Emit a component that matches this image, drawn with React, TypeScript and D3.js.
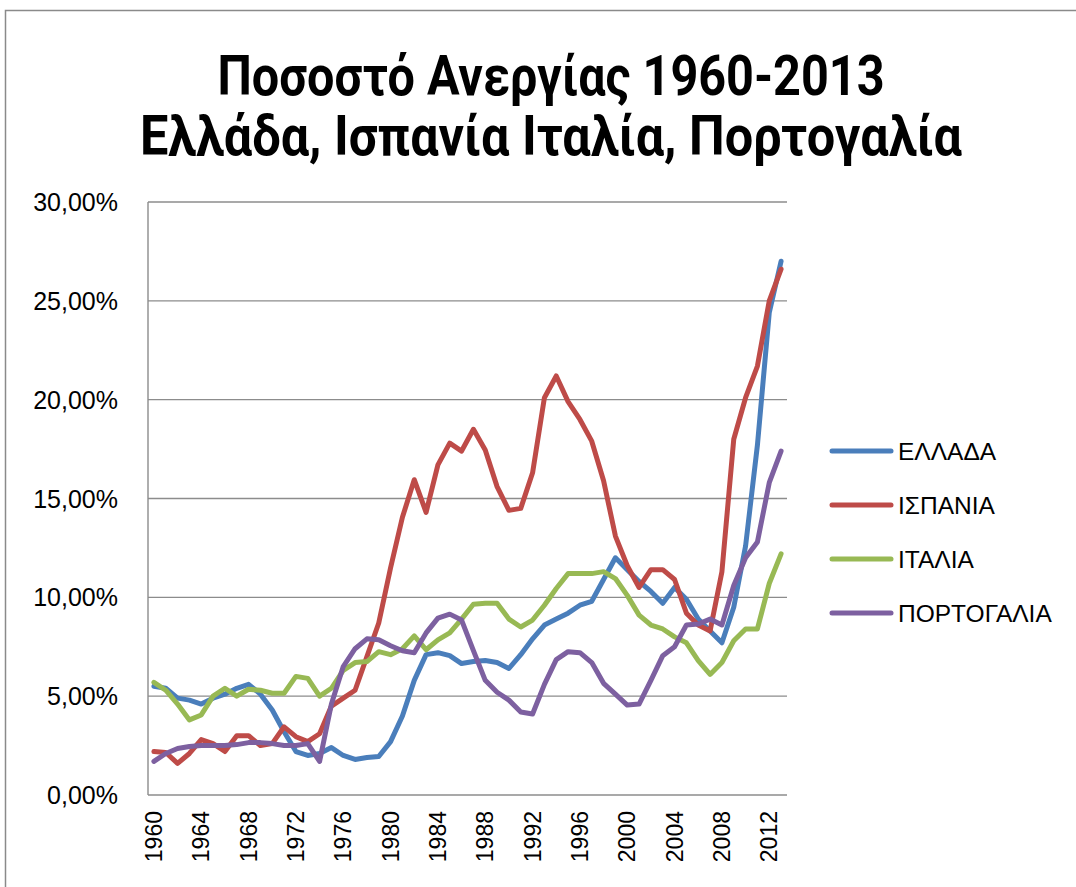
import React from "react";
import * as d3 from "d3";

const years: number[] = d3.range(1960, 2014);

const greece: number[] = [
  5.5, 5.4, 4.9, 4.8, 4.6, 4.9, 5.1, 5.4, 5.6, 5.1,
  4.3, 3.2, 2.2, 2.0, 2.1, 2.4, 2.0, 1.8, 1.9, 1.95,
  2.7, 4.0, 5.8, 7.1, 7.2, 7.05, 6.65, 6.75, 6.8, 6.7,
  6.4, 7.1, 7.9, 8.6, 8.9, 9.2, 9.6, 9.8, 10.9, 12.0,
  11.4, 10.8, 10.3, 9.7, 10.5, 9.9, 8.9, 8.3, 7.7, 9.5,
  12.6, 17.7, 24.4, 27.0,
];
const spain: number[] = [
  2.2, 2.15, 1.6, 2.1, 2.8, 2.6, 2.2, 3.0, 3.0, 2.5,
  2.6, 3.45, 2.95, 2.7, 3.1, 4.5, 4.9, 5.3, 7.0, 8.7,
  11.5, 14.05, 15.95, 14.3, 16.7, 17.8, 17.4, 18.5, 17.45, 15.6,
  14.4, 14.5, 16.3, 20.1, 21.2, 19.9, 19.0, 17.9, 15.9, 13.1,
  11.6, 10.5, 11.4, 11.4, 10.9, 9.2, 8.6, 8.3, 11.3, 18.0,
  20.1, 21.7, 25.0, 26.6,
];
const italy: number[] = [
  5.7, 5.3, 4.6, 3.8, 4.05, 5.0, 5.4, 5.0, 5.35, 5.3,
  5.15, 5.15, 6.0, 5.9, 5.0, 5.4, 6.3, 6.7, 6.75, 7.25,
  7.1, 7.4, 8.05, 7.35, 7.85, 8.2, 8.9, 9.65, 9.7, 9.7,
  8.9, 8.5, 8.85, 9.6, 10.45, 11.2, 11.2, 11.2, 11.3, 10.95,
  10.1, 9.1, 8.6, 8.4, 8.0, 7.7, 6.8, 6.1, 6.7, 7.8,
  8.4, 8.4, 10.7, 12.2,
];
const portugal: number[] = [
  1.7, 2.1, 2.35, 2.45, 2.5, 2.5, 2.5, 2.55, 2.65, 2.65,
  2.6, 2.5, 2.5, 2.6, 1.7, 4.6, 6.5, 7.4, 7.9, 7.85,
  7.55, 7.3, 7.2, 8.2, 8.95, 9.15, 8.85, 7.3, 5.8, 5.2,
  4.8, 4.2, 4.1, 5.6, 6.85, 7.25, 7.2, 6.7, 5.65, 5.1,
  4.55, 4.6, 5.8, 7.05, 7.5, 8.6, 8.65, 8.9, 8.6, 10.6,
  12.0, 12.8, 15.8, 17.4,
];

const seriesNames: string[] = ["ΕΛΛΑΔΑ", "ΙΣΠΑΝΙΑ", "ΙΤΑΛΙΑ", "ΠΟΡΤΟΓΑΛΙΑ"];
const seriesValues: number[][] = [greece, spain, italy, portugal];
const seriesColors: string[] = ["#4A7EBB", "#BE4B48", "#98B954", "#7D60A0"];

const yTicks: number[] = [0, 5, 10, 15, 20, 25, 30];
const xTickYears: number[] = years.filter((y) => (y - 1960) % 4 === 0);

const titleLines: string[] = [
  "Ποσοστό Ανεργίας 1960-2013",
  "Ελλάδα, Ισπανία Ιταλία, Πορτογαλία",
];

export default function App() {
  const W = 1076;
  const H = 887;
  const left = 148;
  const right = 787;
  const top = 202;
  const bottom = 795;

  const x = d3
    .scaleBand<number>()
    .domain(years)
    .range([left, right])
    .paddingInner(0)
    .paddingOuter(0);
  const cx = (yr: number) => (x(yr) as number) + x.bandwidth() / 2;
  const y = d3.scaleLinear().domain([0, 30]).range([bottom, top]);

  const line = d3
    .line<number>()
    .x((_, i) => cx(years[i]))
    .y((d) => y(d));

  const fmt = (v: number) => v.toFixed(2).replace(".", ",") + "%";

  const legendX1 = 832;
  const legendX2 = 891;
  const legendY0 = 451;
  const legendStep = 54;

  return (
    <div style={{ position: "fixed", left: 0, top: 0, width: W, height: H, background: "#fff" }}>
      <svg width={W} height={H} style={{ display: "block" }}>
        <rect x={0} y={0} width={W} height={H} fill="#ffffff" />
        <path d={`M5.5,${H + 2} V10.5 H${W + 2}`} fill="none" stroke="#8a8a8a" strokeWidth={1.5} />

        {titleLines.map((t, i) => (
          <text
            key={i}
            x={551}
            y={i === 0 ? 95 : 155}
            textAnchor="middle"
            fontFamily="Roboto, 'Open Sans', sans-serif"
            fontWeight="bold"
            fontSize={56}
            textLength={i === 0 ? 667 : 822}
            lengthAdjust="spacingAndGlyphs"
            fill="#000"
          >
            {t}
          </text>
        ))}

        {yTicks.map((t) => (
          <line
            key={"g" + t}
            x1={left}
            x2={right}
            y1={y(t)}
            y2={y(t)}
            stroke="#8c8c8c"
            strokeWidth={1.4}
          />
        ))}
        <line x1={left} x2={left} y1={top} y2={bottom} stroke="#8c8c8c" strokeWidth={1.4} />

        {yTicks.map((t) => (
          <text
            key={"yl" + t}
            x={118}
            y={y(t)}
            textAnchor="end"
            dominantBaseline="central"
            fontFamily="'Liberation Sans', Arial, sans-serif"
            fontSize={25}
            fill="#000"
          >
            {fmt(t)}
          </text>
        ))}

        {xTickYears.map((yr) => (
          <text
            key={"xl" + yr}
            transform={`translate(${cx(yr)},${811}) rotate(-90)`}
            textAnchor="end"
            dominantBaseline="central"
            fontFamily="'Liberation Sans', Arial, sans-serif"
            fontSize={23}
            fill="#000"
          >
            {yr}
          </text>
        ))}

        {seriesValues.map((vals, i) => (
          <path
            key={"s" + i}
            d={line(vals) || ""}
            fill="none"
            stroke={seriesColors[i]}
            strokeWidth={5}
            strokeLinejoin="round"
            strokeLinecap="round"
          />
        ))}

        {seriesNames.map((n, i) => (
          <g key={"lg" + i}>
            <line
              x1={legendX1}
              x2={legendX2}
              y1={legendY0 + i * legendStep}
              y2={legendY0 + i * legendStep}
              stroke={seriesColors[i]}
              strokeWidth={5}
              strokeLinecap="round"
            />
            <text
              x={898}
              y={legendY0 + i * legendStep}
              dominantBaseline="central"
              fontFamily="'Liberation Sans', Arial, sans-serif"
              fontSize={24.5}
              fill="#000"
            >
              {n}
            </text>
          </g>
        ))}
      </svg>
    </div>
  );
}
